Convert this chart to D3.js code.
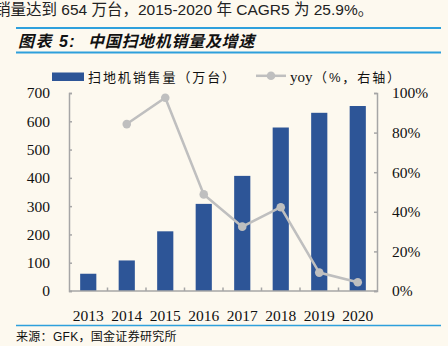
<!DOCTYPE html>
<html><head><meta charset="utf-8">
<script src="https://cdn.jsdelivr.net/npm/d3@7"></script>
<style>
html,body{margin:0;padding:0;background:#fdf9ef;}
svg{display:block;}
</style></head>
<body>
<svg id="c" width="448" height="346"></svg>
<script>
const years = ["2013","2014","2015","2016","2017","2018","2019","2020"];
const sales = [61, 108, 211, 308, 407, 578, 630, 654];
const yoy = [null, 84.3, 97.6, 48.8, 32.5, 42.3, 9.3, 4.4];
const leftTicks = [0,100,200,300,400,500,600,700];
const rightTicks = [0,20,40,60,80,100];

const svg = d3.select("#c");
const W=448,H=346;
svg.append("rect").attr("width",W).attr("height",H).attr("fill","#fdf9ef");

const cjk = "'Liberation Sans','Noto Sans CJK SC',sans-serif";
const serif = "'Liberation Serif','Noto Sans CJK SC',serif";

// header text
svg.append("text").attr("x",-5).attr("y",15).attr("font-family",cjk).attr("font-size",15.5)
  .attr("fill","#222").text("销量达到 654 万台，2015-2020 年 CAGR5 为 25.9%。");
const blue="#2ea0dc";
svg.append("line").attr("x1",16).attr("x2",441).attr("y1",28).attr("y2",28).attr("stroke",blue).attr("stroke-width",2);
svg.append("line").attr("x1",16).attr("x2",441).attr("y1",52.5).attr("y2",52.5).attr("stroke",blue).attr("stroke-width",2);
svg.append("text").attr("x",18).attr("y",46.5).attr("font-family",cjk).attr("font-size",16)
  .attr("font-weight","bold").attr("font-style","italic").attr("fill","#111").attr("letter-spacing",1.5)
  .text("图表 5:");
svg.append("text").attr("x",88).attr("y",46.5).attr("font-family",cjk).attr("font-size",16)
  .attr("font-weight","bold").attr("font-style","italic").attr("fill","#111").attr("letter-spacing",0.7)
  .text("中国扫地机销量及增速");
svg.append("line").attr("x1",16).attr("x2",441).attr("y1",325.5).attr("y2",325.5).attr("stroke",blue).attr("stroke-width",1.5);
svg.append("text").attr("x",16).attr("y",341).attr("font-family",cjk).attr("font-size",12)
  .attr("letter-spacing",0.3).attr("fill","#111").text("来源：GFK，国金证券研究所");

const x0=69,x1=377,yTop=93,yBot=291;
const x = d3.scaleBand().domain(years).range([x0,x1]).paddingInner(0.58).paddingOuter(0.29);
const xb = d3.scaleBand().domain(years).range([x0,x1]);
const yL = d3.scaleLinear().domain([0,700]).range([yBot,yTop]);
const yR = d3.scaleLinear().domain([0,100]).range([yBot,yTop]);
const axisCol="#a6a6a6";
const barCol="#2d5597";
const lineCol="#bfbfbf";

// bars
svg.append("g").selectAll("rect").data(years).join("rect")
  .attr("x",d=>x(d)).attr("width",x.bandwidth())
  .attr("y",(d,i)=>yL(sales[i])).attr("height",(d,i)=>yBot-yL(sales[i]))
  .attr("fill",barCol);

// left axis
const gL = svg.append("g").attr("transform",`translate(${x0},0)`)
  .call(d3.axisLeft(yL).tickValues(leftTicks).tickSize(-3).tickPadding(19).tickFormat(d3.format("d")));
// right axis
const gR = svg.append("g").attr("transform",`translate(${x1},0)`)
  .call(d3.axisRight(yR).tickValues(rightTicks).tickSize(-3).tickPadding(15).tickFormat(d=>d+"%"));
// bottom axis
const gB = svg.append("g").attr("transform",`translate(0,${yBot})`)
  .call(d3.axisBottom(x).tickSize(0).tickPadding(19));
// bottom boundary ticks
svg.append("g").selectAll("line").data(years.slice(1)).join("line")
  .attr("x1",d=>xb(d)).attr("x2",d=>xb(d)).attr("y1",yBot).attr("y2",yBot-3.5)
  .attr("stroke",axisCol).attr("stroke-width",1.5);

[gL,gR,gB].forEach(g=>{
  g.select(".domain").attr("stroke",axisCol).attr("stroke-width",1.5);
  g.selectAll(".tick line").attr("stroke",axisCol).attr("stroke-width",1.5);
  g.selectAll(".tick text").attr("font-family",serif).attr("font-size",15.5).attr("fill","#111");
});
gB.select(".domain").attr("d",`M${x0},0H${x1}`);

// line
const pts = years.map((d,i)=>({d,v:yoy[i]})).filter(p=>p.v!==null);
const cx = d=>x(d)+x.bandwidth()/2;
svg.append("path").datum(pts)
  .attr("d",d3.line().x(p=>cx(p.d)).y(p=>yR(p.v)))
  .attr("fill","none").attr("stroke",lineCol).attr("stroke-width",2.5);
svg.append("g").selectAll("circle").data(pts).join("circle")
  .attr("cx",p=>cx(p.d)).attr("cy",p=>yR(p.v)).attr("r",4.3).attr("fill",lineCol);

// legend
svg.append("rect").attr("x",52).attr("y",72.5).attr("width",32).attr("height",8.5).attr("fill",barCol);
svg.append("text").attr("x",88).attr("y",81.5).attr("font-family",cjk).attr("font-size",13)
  .attr("letter-spacing",1.9).attr("fill","#111").text("扫地机销售量（万台）");
svg.append("line").attr("x1",256).attr("x2",286).attr("y1",75.8).attr("y2",75.8).attr("stroke",lineCol).attr("stroke-width",2.5);
svg.append("circle").attr("cx",271).attr("cy",75.8).attr("r",4.3).attr("fill",lineCol);
svg.append("text").attr("x",290).attr("y",81.5).attr("font-family",serif).attr("font-size",15)
  .attr("fill","#111").text("yoy");
svg.append("text").attr("x",314).attr("y",81.5).attr("font-family",cjk).attr("font-size",13)
  .attr("letter-spacing",1.9).attr("fill","#111").text("（%，右轴）");
</script>
</body></html>
